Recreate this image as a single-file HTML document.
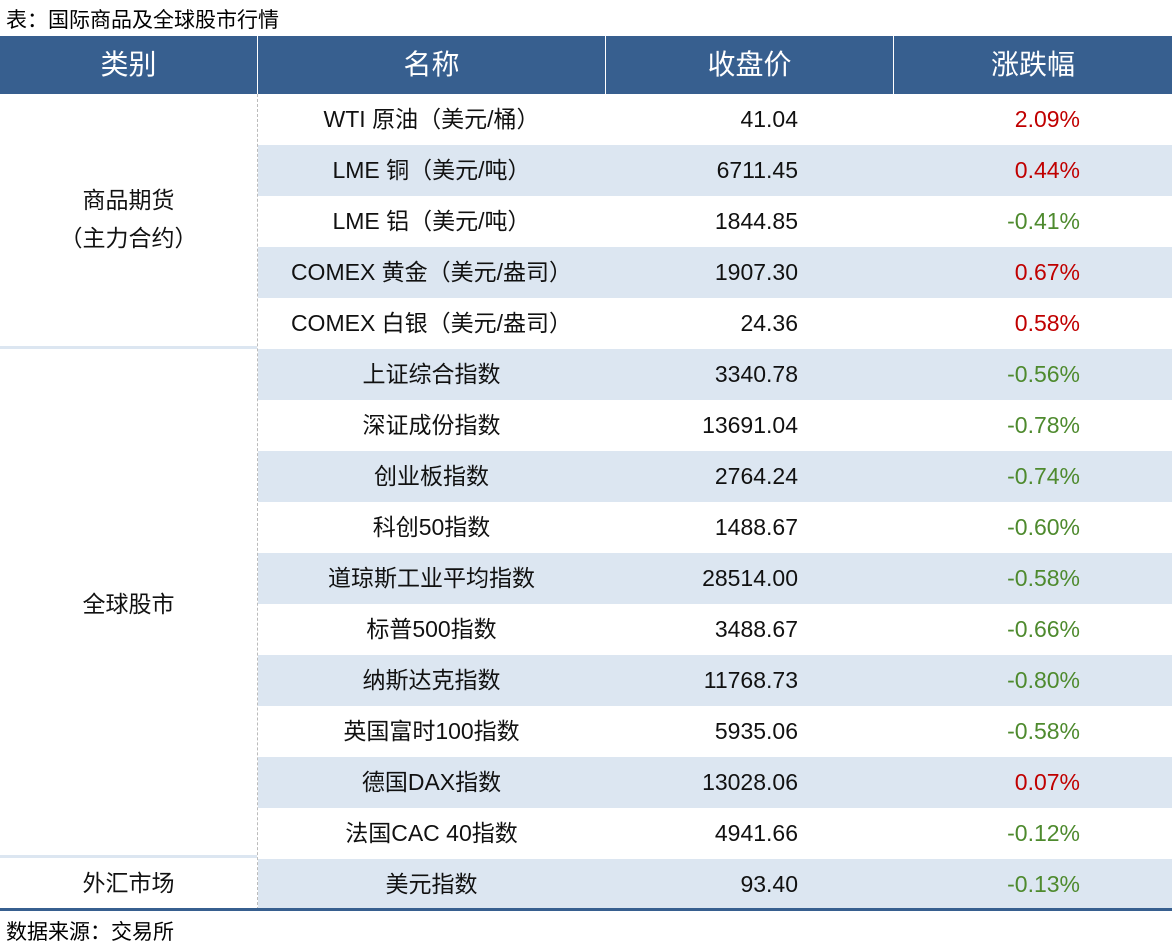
<!DOCTYPE html>
<html><head><meta charset="utf-8"><style>
body{margin:0;width:1172px;height:948px;background:#fff;font-family:"Liberation Sans","Noto Sans CJK SC",sans-serif;position:relative;overflow:hidden}
.t{position:absolute;left:6px;top:4px;font-size:21px;color:#000}
.f{position:absolute;left:6px;top:916px;font-size:21px;color:#000}
.hd{position:absolute;top:36px;height:58px;background:#375f8f;color:#fff;font-size:28px;line-height:58px;text-align:center}
.c{position:absolute;height:51px;line-height:51px;font-size:23px;color:#111;box-sizing:border-box}
.sh{background:#dce6f1}
.red{color:#c00000}.grn{color:#4e8a2e}
</style></head><body>
<div class="t">表：国际商品及全球股市行情</div>
<div class="hd" style="left:0;width:257px">类别</div>
<div class="hd" style="left:258px;width:347px">名称</div>
<div class="hd" style="left:606px;width:287px">收盘价</div>
<div class="hd" style="left:894px;width:278px">涨跌幅</div>
<div id="rows"></div>
<div style="position:absolute;left:0;top:346px;width:257px;height:3px;background:#dce6f1"></div>
<div style="position:absolute;left:0;top:855px;width:257px;height:3px;background:#dce6f1"></div>
<div style="position:absolute;left:257px;top:94px;width:0;height:816px;border-left:1px dashed #bbb"></div>
<div style="position:absolute;left:0;top:908px;width:1172px;height:3px;background:#375f8f"></div>
<div class="c" style="left:0;width:257px;top:94px;height:254px;line-height:38px;padding-top:87px;text-align:center">商品期货<br>（主力合约）</div>
<div class="c" style="left:0;width:257px;top:579px;text-align:center">全球股市</div>
<div class="c" style="left:0;width:257px;top:858px;text-align:center">外汇市场</div>
<div class="f">数据来源：交易所</div>
<script>
const names=["WTI 原油（美元/桶）","LME 铜（美元/吨）","LME 铝（美元/吨）","COMEX 黄金（美元/盎司）","COMEX 白银（美元/盎司）","上证综合指数","深证成份指数","创业板指数","科创50指数","道琼斯工业平均指数","标普500指数","纳斯达克指数","英国富时100指数","德国DAX指数","法国CAC 40指数","美元指数"];
const closes=["41.04","6711.45","1844.85","1907.30","24.36","3340.78","13691.04","2764.24","1488.67","28514.00","3488.67","11768.73","5935.06","13028.06","4941.66","93.40"];
const changes=["2.09%","0.44%","-0.41%","0.67%","0.58%","-0.56%","-0.78%","-0.74%","-0.60%","-0.58%","-0.66%","-0.80%","-0.58%","0.07%","-0.12%","-0.13%"];
const R=document.getElementById('rows');
names.forEach((n,i)=>{
 const top=94+i*51, sh=i%2?' sh':'';
 const a=document.createElement('div');a.className='c'+sh;a.style.cssText=`left:258px;width:347px;top:${top}px;text-align:center`;a.textContent=n;
 
 
 const b=document.createElement('div');b.className='c'+sh;b.style.cssText=`left:605px;width:288px;top:${top}px;text-align:right;padding-right:95px`;b.textContent=closes[i];
 
 
 const c=document.createElement('div');c.className='c'+sh+(changes[i][0]=='-'?' grn':' red');c.style.cssText=`left:893px;width:279px;top:${top}px;text-align:right;padding-right:92px`;c.textContent=changes[i];
 
 
 R.append(a,b,c);
});
</script>
</body></html>
